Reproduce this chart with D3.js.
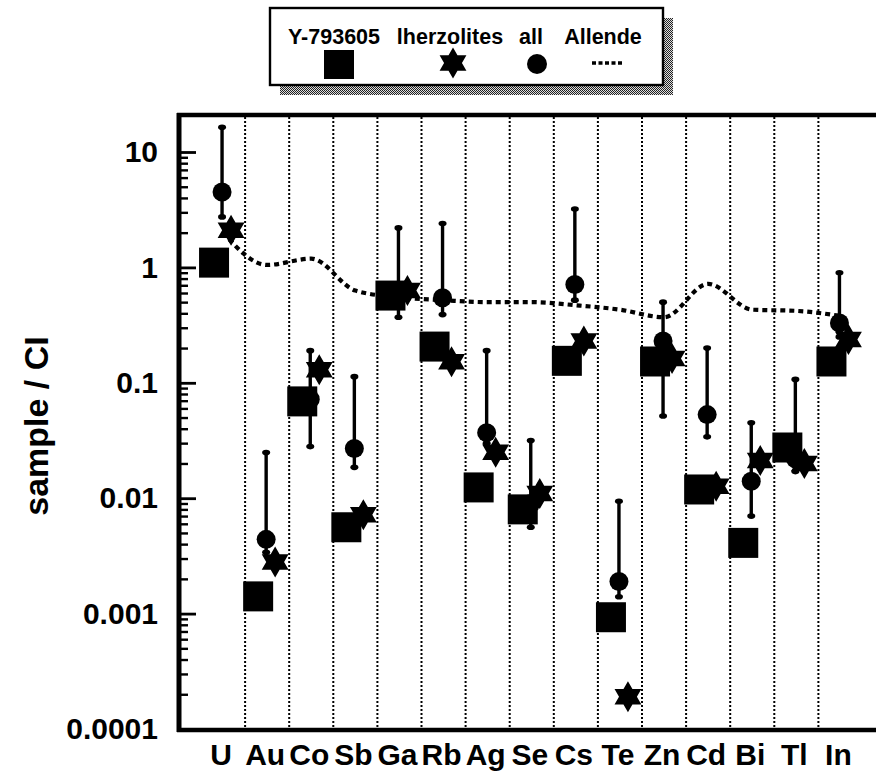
<!DOCTYPE html>
<html><head><meta charset="utf-8">
<script src="https://cdn.jsdelivr.net/npm/d3@7"></script>
<style>
body{margin:0;background:#fff;}
svg{display:block;}
text{font-family:"Liberation Sans",Arial,Helvetica,sans-serif;fill:#000;}
</style>
</head><body>
<svg id="c" width="876" height="776"></svg>
<script>
// ---- data ----
const categories = ["U","Au","Co","Sb","Ga","Rb","Ag","Se","Cs","Te","Zn","Cd","Bi","Tl","In"];
const y793605    = [1.1, 0.00141, 0.069, 0.0056, 0.57, 0.206, 0.0124, 0.0080, 0.155, 0.00093, 0.153, 0.0119, 0.0041, 0.0275, 0.153];
const lherzolites = [2.1, 0.0028, 0.13, 0.0072, 0.63, 0.152, 0.025, 0.011, 0.23, 0.00019, 0.162, 0.0127, 0.0212, 0.0200, 0.237];
const allMean    = [4.5, 0.0044, 0.072, 0.027, 0.60, 0.546, 0.037, 0.009, 0.71, 0.0019, 0.23, 0.053, 0.014, 0.022, 0.33];
const allHigh    = [16.4, 0.0249, 0.19, 0.113, 2.2, 2.4, 0.19, 0.0316, 3.2, 0.0094, 0.50, 0.20, 0.045, 0.107, 0.90];
const allLow     = [2.74, 0.0034, 0.028, 0.0185, 0.37, 0.39, 0.030, 0.0056, 0.52, 0.0014, 0.0515, 0.034, 0.007, 0.017, 0.25];
const allende    = [2.0, 1.05, 1.19, 0.63, 0.55, 0.52, 0.50, 0.50, 0.47, 0.43, 0.37, 0.72, 0.43, 0.42, 0.38];
const majorTicks = [0.0001, 0.001, 0.01, 0.1, 1, 10];
const majorLabels = ["0.0001","0.001","0.01","0.1","1","10"];
const legendLabels = ["Y-793605","lherzolites","all","Allende"];

// ---- layout ----
const svg = d3.select("#c");
const plotLeft = 179, plotTop = 115, plotBottom = 730, plotRight = 876;
const x = d3.scaleBand().domain(categories).range([201, 201 + 44.1*15]).padding(0);
const y = d3.scaleLog().domain([1e-4, 10]).range([729, 152]);
const cx = c => x(c) + x.bandwidth()/2;

const defs = svg.append("defs");
const pat = defs.append("pattern").attr("id","hatch").attr("width",2).attr("height",2)
  .attr("patternUnits","userSpaceOnUse");
pat.append("rect").attr("width",2).attr("height",2).attr("fill","#ddd");
pat.append("rect").attr("x",0).attr("y",0).attr("width",1).attr("height",1).attr("fill","#222");
pat.append("rect").attr("x",1).attr("y",1).attr("width",1).attr("height",1).attr("fill","#222");

function hexagram(R){
  const r = R/Math.sqrt(3);
  const pts = [];
  for(let k=0;k<12;k++){
    const a = (-90 + 30*k) * Math.PI/180;
    const rr = k%2===0 ? R : r;
    pts.push([rr*Math.cos(a), rr*Math.sin(a)]);
  }
  return "M" + pts.map(p=>p[0].toFixed(2)+","+p[1].toFixed(2)).join("L") + "Z";
}

// ---- vertical dotted separators ----
const g = svg.append("g");
g.selectAll("line.grid").data(categories.slice(1)).join("line")
  .attr("x1", d => x(d)).attr("x2", d => x(d))
  .attr("y1", plotTop+2).attr("y2", plotBottom-2)
  .attr("stroke","#000").attr("stroke-width",2).attr("stroke-dasharray","2,2");

// ---- y axis ticks ----
const minorTicks = [];
[-4,-3,-2,-1,0,1].forEach(e => { for(let k=2;k<=9;k++){ const v=k*Math.pow(10,e); if(v<20) minorTicks.push(v);} });
const yMinor = d3.axisLeft(y).tickValues(minorTicks).tickSizeInner(-9).tickSizeOuter(0).tickFormat("");
const yMajor = d3.axisLeft(y).tickValues(majorTicks).tickSizeInner(-17).tickSizeOuter(0)
  .tickPadding(21).tickFormat((d,i) => majorLabels[majorTicks.indexOf(d)]);
const gm = svg.append("g").attr("transform",`translate(${plotLeft},0)`).call(yMinor);
gm.select(".domain").remove();
gm.selectAll(".tick line").attr("stroke","#000").attr("stroke-width",2.4);
const gM = svg.append("g").attr("transform",`translate(${plotLeft},0)`).call(yMajor);
gM.select(".domain").remove();
gM.selectAll(".tick line").attr("stroke","#000").attr("stroke-width",2.8);
gM.selectAll(".tick text").attr("font-size",30).attr("font-weight","bold").attr("font-family","'Liberation Sans',Arial,sans-serif");

// ---- x axis labels ----
const xAxis = d3.axisBottom(x).tickSize(0).tickPadding(14);
const gx = svg.append("g").attr("transform",`translate(0,${plotBottom})`).call(xAxis);
gx.select(".domain").remove();
gx.selectAll(".tick text").attr("font-size",30).attr("font-weight","bold").attr("font-family","'Liberation Sans',Arial,sans-serif")
  .attr("dx",-2);

// ---- frame ----
svg.append("line").attr("x1",plotLeft).attr("x2",plotLeft).attr("y1",plotTop-2).attr("y2",plotBottom+2)
  .attr("stroke","#000").attr("stroke-width",5);
svg.append("line").attr("x1",plotLeft-2).attr("x2",plotRight).attr("y1",plotTop).attr("y2",plotTop)
  .attr("stroke","#000").attr("stroke-width",4.5);
svg.append("line").attr("x1",plotLeft-2).attr("x2",plotRight).attr("y1",plotBottom).attr("y2",plotBottom)
  .attr("stroke","#000").attr("stroke-width",4.5);

// ---- Allende dashed curve ----
const line = d3.line().x((d,i)=>cx(categories[i])).y(d=>y(d)).curve(d3.curveMonotoneX);
svg.append("path").attr("d", line(allende)).attr("fill","none").attr("stroke","#000")
  .attr("stroke-width",4.2).attr("stroke-dasharray","5,4");

// ---- error bars + circles ("all") ----
const eb = svg.append("g");
categories.forEach((c,i)=>{
  const xx = cx(c) - 1;
  eb.append("line").attr("x1",xx).attr("x2",xx).attr("y1",y(allLow[i])).attr("y2",y(allHigh[i]))
    .attr("stroke","#000").attr("stroke-width",3.4);
  [allLow[i], allHigh[i]].forEach(v=>{
    eb.append("ellipse").attr("cx",xx).attr("cy",y(v)).attr("rx",4).attr("ry",2.8).attr("fill","#000");
  });
  eb.append("circle").attr("cx",xx).attr("cy",y(allMean[i])).attr("r",9.5).attr("fill","#000");
});

// ---- squares (Y-793605) ----
svg.append("g").selectAll("rect").data(y793605).join("rect")
  .attr("x",(d,i)=>cx(categories[i]) - 9 - 15).attr("y",d=>y(d)-15)
  .attr("width",30).attr("height",30).attr("fill","#000");

// ---- stars (lherzolites) ----
svg.append("g").selectAll("path").data(lherzolites).join("path")
  .attr("d", hexagram(15.5))
  .attr("transform",(d,i)=>`translate(${cx(categories[i])+8},${y(d)})`)
  .attr("fill","#000");

// ---- y label ----
svg.append("text").attr("transform","translate(48,426) rotate(-90)")
  .attr("text-anchor","middle").attr("font-size",34).attr("font-weight","bold")
  .text("sample / CI");

// ---- legend ----
const lg = svg.append("g");
lg.append("rect").attr("x",280).attr("y",18).attr("width",393).attr("height",77).attr("fill","url(#hatch)");
lg.append("rect").attr("x",270).attr("y",8).attr("width",393).attr("height",77)
  .attr("fill","#fff").attr("stroke","#000").attr("stroke-width",2.4);
const legX = [334, 450, 531, 603];
legendLabels.forEach((t,i)=>{
  lg.append("text").attr("x",legX[i]).attr("y",44).attr("text-anchor","middle")
    .attr("font-size",21.5).attr("font-weight","bold").text(t);
});
lg.append("rect").attr("x",339-15).attr("y",50).attr("width",30).attr("height",29).attr("fill","#000");
lg.append("path").attr("d",hexagram(15.5)).attr("transform","translate(453,63)").attr("fill","#000");
lg.append("circle").attr("cx",537).attr("cy",64).attr("r",10).attr("fill","#000");
lg.append("line").attr("x1",592).attr("x2",623).attr("y1",63).attr("y2",63)
  .attr("stroke","#000").attr("stroke-width",3.6).attr("stroke-dasharray","4,2.5");
</script>
</body></html>
